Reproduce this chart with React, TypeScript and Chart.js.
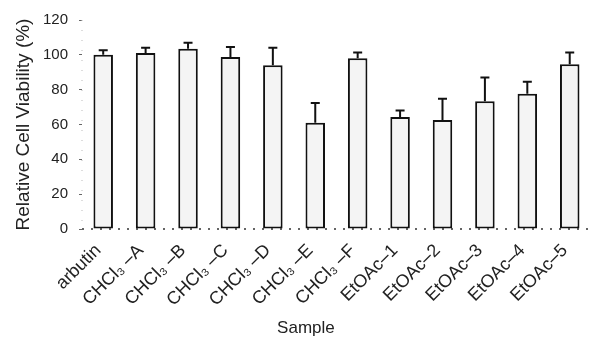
import React, { useEffect, useRef } from "react";
import { Chart, registerables } from "chart.js";

Chart.register(...registerables);

const categories = [
  "arbutin",
  "CHCl₃ –A",
  "CHCl₃ –B",
  "CHCl₃ –C",
  "CHCl₃ –D",
  "CHCl₃ –E",
  "CHCl₃ –F",
  "EtOAc–1",
  "EtOAc–2",
  "EtOAc–3",
  "EtOAc–4",
  "EtOAc–5",
];

const viability = [100, 101, 103.5, 98.8, 94, 61, 98, 64.3, 62.6, 73.3, 77.6, 94.6];
const errors = [2.6, 3, 3.5, 5.7, 10, 11.3, 3.3, 3.7, 12.2, 13.7, 6.9, 6.7];

const yTicks = [0, 20, 40, 60, 80, 100, 120];

const FONT = '"Liberation Sans", Arial, Helvetica, sans-serif';

const axisLinesPlugin = {
  id: "axisLines",
  beforeDatasetsDraw(chart: any) {
    const { ctx, chartArea } = chart;
    ctx.save();
    // dotted baseline
    ctx.strokeStyle = "#333";
    ctx.lineWidth = 1.5;
    ctx.setLineDash([2, 7]);
    ctx.beginPath();
    ctx.moveTo(chartArea.left, chartArea.bottom);
    ctx.lineTo(chartArea.right, chartArea.bottom);
    ctx.stroke();
    // faint dotted y axis
    ctx.strokeStyle = "#bbb";
    ctx.lineWidth = 1;
    ctx.setLineDash([1, 9]);
    ctx.beginPath();
    ctx.moveTo(chartArea.left, chartArea.top);
    ctx.lineTo(chartArea.left, chartArea.bottom);
    ctx.stroke();
    ctx.restore();
  },
};

const errorBarPlugin = {
  id: "errorBars",
  afterDatasetsDraw(chart: any) {
    const { ctx } = chart;
    const meta = chart.getDatasetMeta(0);
    const yScale = chart.scales.y;
    ctx.save();
    ctx.strokeStyle = "#111";
    ctx.lineWidth = 2;
    meta.data.forEach((bar: any, i: number) => {
      const x = bar.x;
      const yTop = yScale.getPixelForValue(viability[i] + errors[i]);
      ctx.beginPath();
      ctx.moveTo(x, bar.y);
      ctx.lineTo(x, yTop);
      ctx.moveTo(x - 4.5, yTop);
      ctx.lineTo(x + 4.5, yTop);
      ctx.stroke();
    });
    ctx.restore();
  },
};

const sampleTitlePlugin = {
  id: "sampleTitle",
  afterDraw(chart: any) {
    const { ctx, chartArea } = chart;
    ctx.save();
    ctx.font = `17px ${FONT}`;
    ctx.fillStyle = "#222";
    ctx.textAlign = "center";
    ctx.textBaseline = "middle";
    const x = chartArea.left + (chartArea.right - chartArea.left) * 0.44;
    ctx.fillText("Sample", x, chart.height - 14);
    ctx.restore();
  },
};

export default function App() {
  const canvasRef = useRef<HTMLCanvasElement | null>(null);

  useEffect(() => {
    document.body.style.margin = "0";
    const canvas = canvasRef.current;
    if (!canvas) return;
    const chart = new Chart(canvas, {
      type: "bar",
      data: {
        labels: categories,
        datasets: [
          {
            data: viability,
            backgroundColor: "#f4f4f4",
            borderColor: "#111",
            borderWidth: 2,
            borderSkipped: false,
            barPercentage: 0.46,
            categoryPercentage: 1,
          },
        ],
      },
      options: {
        animation: false,
        responsive: true,
        maintainAspectRatio: false,
        layout: { padding: { top: 15, left: 0, right: 0, bottom: 0 } },
        plugins: {
          legend: { display: false },
          tooltip: { enabled: false },
          title: { display: false },
        },
        scales: {
          x: {
            type: "category",
            offset: true,
            grid: { display: false, drawTicks: false, tickLength: 0 },
            border: { display: false },
            ticks: {
              maxRotation: 45,
              minRotation: 45,
              autoSkip: false,
              padding: 11,
              labelOffset: -5,
              color: "#222",
              font: { family: FONT, size: 18 },
            },
            afterFit(scale: any) {
              scale.height = 113;
            },
          },
          y: {
            min: 0,
            max: 120,
            afterBuildTicks(scale: any) {
              scale.ticks = yTicks.map((v) => ({ value: v }));
            },
            grid: {
              display: true,
              drawOnChartArea: false,
              drawTicks: true,
              tickLength: 3,
              color: "#666",
            },
            border: { display: false },
            ticks: {
              padding: 11,
              color: "#222",
              font: { family: FONT, size: 15 },
            },
            title: {
              display: true,
              text: "Relative Cell Viability (%)",
              color: "#222",
              font: { family: FONT, size: 19 },
              padding: { top: 12, bottom: 0 },
            },
            afterFit(scale: any) {
              scale.width = 82;
            },
          },
        },
      },
      plugins: [axisLinesPlugin, errorBarPlugin, sampleTitlePlugin],
    });
    return () => chart.destroy();
  }, []);

  return (
    <div style={{ width: 592, height: 342, overflow: "hidden", position: "relative" }}>
      <div style={{ width: 596, height: 342, position: "relative" }}>
        <canvas ref={canvasRef} />
      </div>
    </div>
  );
}
